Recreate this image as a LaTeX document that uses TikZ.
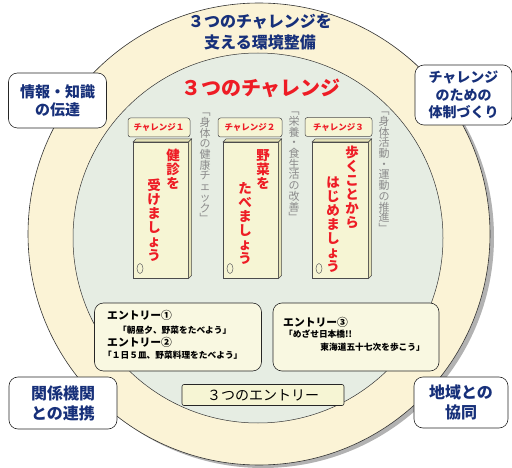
\documentclass[tikz,border=0pt]{standalone}
\usepackage{fontspec}
\setmainfont{Noto Sans CJK JP}
\usetikzlibrary{arrows.meta}
\definecolor{navy}{HTML}{17307A}
\definecolor{cred}{HTML}{EE1C25}
\definecolor{ring}{HTML}{FBF3D6}
\definecolor{core}{HTML}{E6EDE3}
\definecolor{boxy}{HTML}{F6F5D4}
\definecolor{side}{HTML}{E6E4B8}
\definecolor{arr}{HTML}{7E8A96}
\definecolor{gtxt}{HTML}{8C8C8C}
\tikzset{
  cornerbox/.style={draw=black!85, fill=white, rounded corners=9pt, line width=0.6pt, text=navy, align=center},
  chlabel/.style={draw=black!70, fill=boxy, rounded corners=2.5pt, line width=0.5pt, text=cred, font=\bfseries\fontsize{8.5}{9}\selectfont, inner sep=0pt},
  front/.style={draw=black!70, fill=boxy, line width=0.5pt, inner sep=0pt},
  redv/.style={text=cred, font=\bfseries\fontsize{13.5}{14}\selectfont, align=center, inner sep=0pt, anchor=north},
  grayv/.style={text=gtxt, font=\fontsize{11}{10.7}\selectfont, align=center, inner sep=0pt, anchor=north},
  entrybox/.style={draw=black!85, fill=boxy!70!white, rounded corners=9pt, line width=0.6pt},
  etxt/.style={font=\bfseries\fontsize{8.7}{10}\selectfont, inner sep=0pt, anchor=west},
  ehead/.style={font=\bfseries\fontsize{10.8}{12}\selectfont, inner sep=0pt, anchor=west},
  blockarrow/.style={draw=none, line width=11pt, arr, -{Triangle[width=22pt,length=9pt]}}
}
\begin{document}
\begin{tikzpicture}[x=1pt,y=-1pt]
\useasboundingbox (0,0) rectangle (512,468);
% shadow and outer ring
\fill[black!30] (263,237) circle (231);
\fill[ring] (259,234) circle (231);
\draw[black!80, line width=0.6pt] (259,234) circle (231);
% inner circle
\fill[core] (258,238) circle (185);
\draw[black!80, line width=0.5pt] (258,238) circle (185);
% titles
\node[text=navy, font=\bfseries\fontsize{16}{21}\selectfont, align=center] (outer) at (260,32) {３つのチャレンジを\\支える環境整備};
\node[text=cred, font=\bfseries\fontsize{20}{22}\selectfont] (inner) at (261,88) {３つのチャレンジ};
% corner boxes
\node[cornerbox, font=\bfseries\fontsize{15}{18}\selectfont, minimum width=98pt, minimum height=55pt] (info) at (57.5,100.5) {情報・知識\\の伝達};
\node[cornerbox, font=\bfseries\fontsize{14}{17.5}\selectfont, minimum width=97pt, minimum height=60pt] (system) at (463.5,95) {チャレンジ\\のための\\体制づくり};
\node[cornerbox, font=\bfseries\fontsize{16}{20}\selectfont, minimum width=108pt, minimum height=52pt] (agency) at (63,403) {関係機関\\との連携};
\node[cornerbox, font=\bfseries\fontsize{16}{20}\selectfont, minimum width=94pt, minimum height=51pt] (region) at (461,402.5) {地域との\\協同};
% challenge boxes
\foreach \i/\x/\w in {1/133/55, 2/223/55, 3/312/56}{
  \node[front, minimum width=\w pt, minimum height=136pt, anchor=north west] (b\i) at (\x,142) {};
  \filldraw[fill=side, draw=black!70, line width=0.5pt] (b\i.north west) -- ++(3,-3) -- ([shift={(3,-3)}]b\i.north east) -- (b\i.north east) -- cycle;
  \filldraw[fill=side, draw=black!70, line width=0.5pt] (b\i.north east) -- ++(3,-3) -- ([shift={(3,-3)}]b\i.south east) -- (b\i.south east) -- cycle;
  \draw[black!60, line width=0.5pt] ([shift={(7,-10)}]b\i.south west) ellipse (3pt and 5pt);
}
\node[chlabel, minimum width=62pt, minimum height=19pt] (c1) at (159,127.5) {チャレンジ１};
\node[chlabel, minimum width=64pt, minimum height=19pt] (c2) at (250,127.5) {チャレンジ２};
\node[chlabel, minimum width=67pt, minimum height=19pt] (c3) at (338.5,127) {チャレンジ３};
% red vertical texts
\node[redv] (t1a) at (173,149) {健\\診\\を};
\node[redv] (t1b) at (154,179) {受\\け\\ま\\し\\ょ\\う};
\node[redv] (t2a) at (263,149) {野\\菜\\を};
\node[redv] (t2b) at (245,182) {た\\べ\\ま\\し\\ょ\\う};
\node[redv] (t3a) at (352,146) {歩\\く\\こ\\と\\か\\ら};
\node[redv] (t3b) at (333,177) {は\\じ\\め\\ま\\し\\ょ\\う};
% gray vertical texts
\node[grayv] (g1) at (205,113) {﹁\\身\\体\\の\\健\\康\\チ\\ェ\\ッ\\ク\\﹂};
\node[grayv] (g2) at (294,112) {﹁\\栄\\養\\・\\食\\生\\活\\の\\改\\善\\﹂};
\node[grayv] (g3) at (384,112) {﹁\\身\\体\\活\\動\\・\\運\\動\\の\\推\\進\\﹂};
% entry boxes
\node[entrybox, minimum width=167pt, minimum height=68pt] (e1) at (178,337) {};
\node[entrybox, minimum width=166pt, minimum height=68pt] (e2) at (356,337) {};
\draw[blockarrow] (b2.south) -- (b2.south |- e1.north);
\draw[blockarrow] ([xshift=-6pt]b3.south) -- ([xshift=-6pt]b3.south |- e2.north);
\node[ehead] (en1) at (107,315) {エントリー①};
\node[etxt] (q1) at (118,330) {「朝昼夕、野菜をたべよう」};
\node[ehead] (en2) at (107,342) {エントリー②};
\node[etxt] (q2) at (103,355.5) {「１日５皿、野菜料理をたべよう」};
\node[ehead] (en3) at (283,322) {エントリー③};
\node[etxt] (q3) at (284,334.5) {「めざせ日本橋!!};
\node[etxt, anchor=east] (q4) at (425,347.5) {東海道五十七次を歩こう」};
% three entries
\node[draw=black!85, fill=boxy, rounded corners=2pt, line width=0.6pt, minimum width=162pt, minimum height=21pt, font=\fontsize{14}{15}\selectfont] (three) at (263,395) {３つのエントリー};
\end{tikzpicture}
\end{document}
